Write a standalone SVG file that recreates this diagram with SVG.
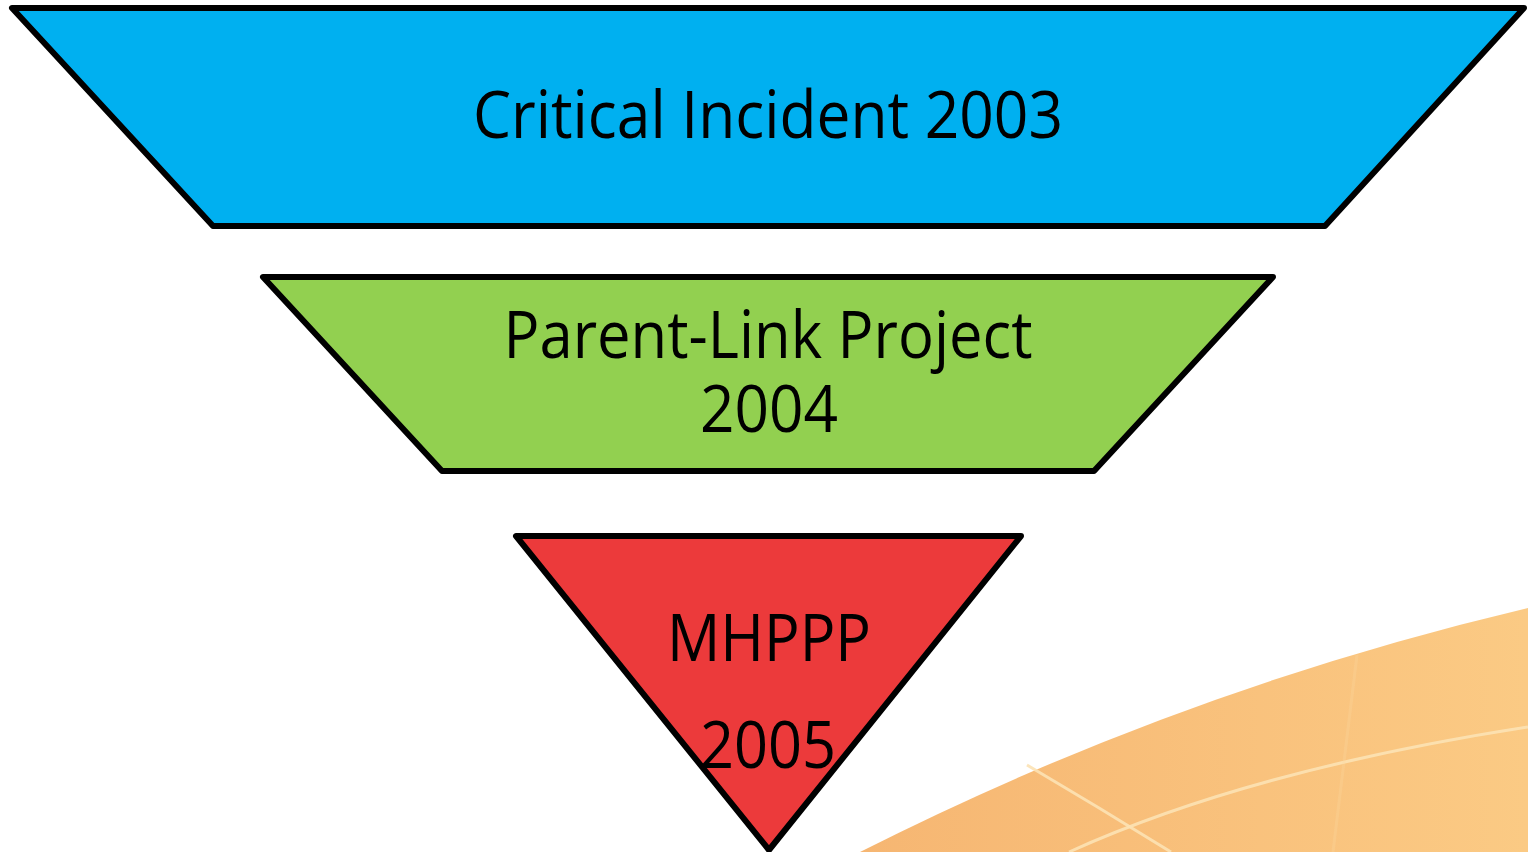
<svg xmlns="http://www.w3.org/2000/svg" width="1528" height="852" viewBox="0 0 1528 852">
<defs>
<style>
.shape{stroke:#000;stroke-width:6;stroke-linejoin:round}
.lbl{font-family:"Open Sans","Liberation Sans",sans-serif;font-size:66px;fill:#000;text-anchor:middle}
.grid{fill:none;stroke:#FCE2B4;stroke-width:3;opacity:0.9}
</style>
<linearGradient id="og" x1="0" y1="0" x2="1" y2="0">
<stop offset="0" stop-color="#F6B672"/>
<stop offset="1" stop-color="#FBCA84"/>
</linearGradient>
</defs>
<rect width="1528" height="852" fill="#fff"/>
<g id="background">
<path d="M860,852 Q1180,690 1528,608 L1528,852 Z" fill="url(#og)"/>
<path class="grid" d="M1027,765 Q1100,808 1171,852"/>
<path class="grid" d="M1069,852 Q1250,770 1528,727"/>
<path d="M1357,655 Q1345,750 1333,852" fill="none" stroke="#FCD7A0" stroke-width="3" opacity="0.3"/>
</g>
<g id="node-critical-incident">
<polygon class="shape" points="12,8 1524,8 1325,226 213,226" fill="#00B0F0"/>
<text class="lbl" x="768" y="138" textLength="590" lengthAdjust="spacingAndGlyphs">Critical Incident 2003</text>
</g>
<g id="node-parent-link">
<polygon class="shape" points="263,277 1273,277 1094,471 442,471" fill="#92D050"/>
<text class="lbl"><tspan x="768" y="358" textLength="529" lengthAdjust="spacingAndGlyphs">Parent-Link Project</tspan><tspan x="769" y="432" textLength="138" lengthAdjust="spacingAndGlyphs">2004</tspan></text>
</g>
<g id="node-mhppp">
<polygon class="shape" points="516,536 1021,536 769,850" fill="#EC3A3B"/>
<text class="lbl"><tspan x="769" y="661" textLength="204" lengthAdjust="spacingAndGlyphs">MHPPP</tspan><tspan x="768" y="768" textLength="136" lengthAdjust="spacingAndGlyphs">2005</tspan></text>
</g>
<g id="connectors"/>
</svg>
